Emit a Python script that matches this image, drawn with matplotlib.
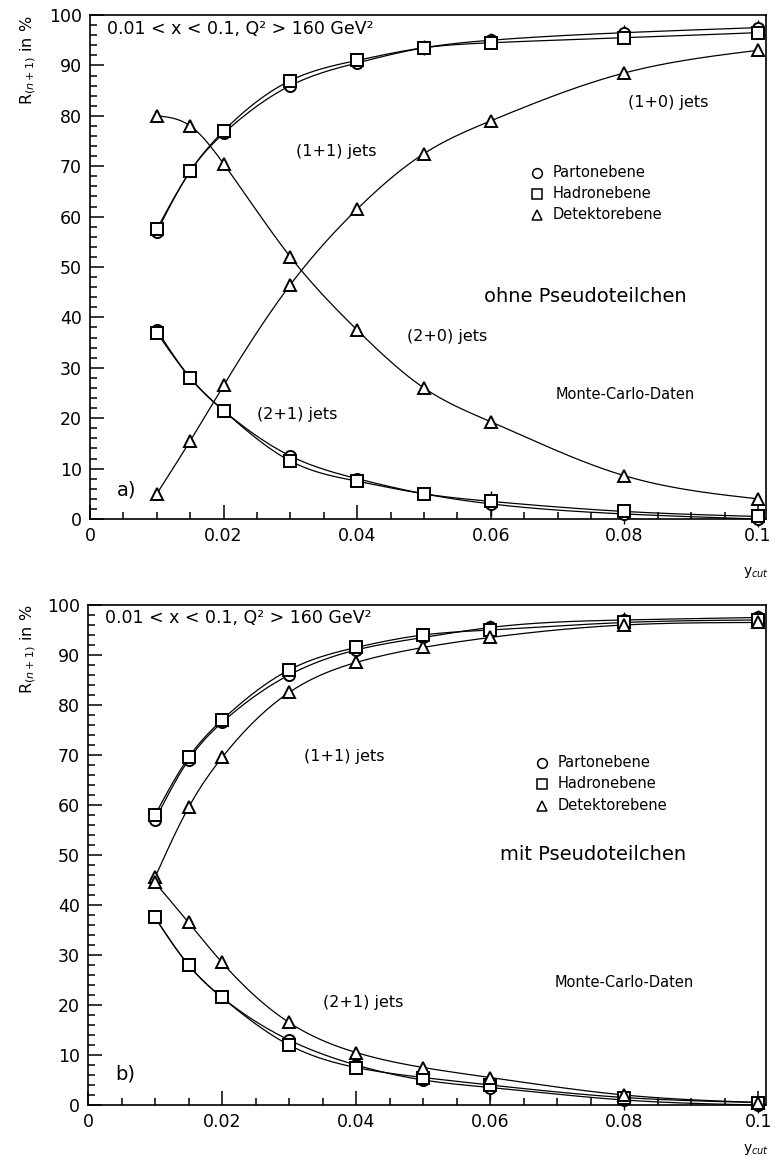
import matplotlib
matplotlib.use("Agg")
import matplotlib.pyplot as plt
import numpy as np
from matplotlib.ticker import MultipleLocator

plt.rcParams["font.family"] = ["DejaVu Sans"]

# y_cut Stuetzstellen
ycut = [0.01, 0.015, 0.02, 0.03, 0.04, 0.05, 0.06, 0.08, 0.1]

# a) ohne Pseudoteilchen
a_11_parton = [57.0, 69.0, 76.5, 86.0, 90.5, 93.5, 95.0, 96.5, 97.5]
a_11_hadron = [57.5, 69.0, 77.0, 87.0, 91.0, 93.5, 94.5, 95.5, 96.5]
a_21_parton = [37.5, 28.0, 21.5, 12.5, 8.0, 5.0, 3.0, 1.0, 0.0]
a_21_hadron = [37.0, 28.0, 21.5, 11.5, 7.5, 5.0, 3.5, 1.5, 0.5]
a_10_det = [5.0, 15.5, 26.5, 46.5, 61.5, 72.5, 79.0, 88.5, 93.0]
a_20_det = [80.0, 78.0, 70.5, 52.0, 37.5, 26.0, 19.3, 8.6, 4.0]

# b) mit Pseudoteilchen
b_11_parton = [57.0, 69.0, 76.5, 86.0, 91.0, 93.5, 95.5, 97.0, 97.5]
b_11_hadron = [58.0, 69.5, 77.0, 87.0, 91.5, 94.0, 95.0, 96.5, 97.0]
b_11_det = [45.5, 59.5, 69.5, 82.5, 88.5, 91.5, 93.5, 96.0, 96.5]
b_21_parton = [37.5, 28.0, 21.5, 13.0, 8.0, 5.0, 3.5, 1.0, 0.0]
b_21_hadron = [37.5, 28.0, 21.5, 12.0, 7.5, 5.5, 4.0, 1.5, 0.5]
b_21_det = [44.5, 36.5, 28.5, 16.5, 10.5, 7.5, 5.5, 2.0, 0.5]

err_11 = [0.5, 0.5, 0.8, 1.0, 1.2, 1.5, 1.5, 1.5, 1.5]
err_21 = [0.5, 0.5, 0.8, 1.0, 1.0, 1.2, 2.5, 2.0, 1.5]

legend_labels = ["Partonebene", "Hadronebene", "Detektorebene"]
MARKERS = ["o", "s", "^"]


def nat_spline(x, y, n=300):
    # natuerlicher kubischer Spline, nur fuer die Kurvendarstellung
    x = np.asarray(x, float)
    y = np.asarray(y, float)
    k = len(x)
    h = np.diff(x)
    A = np.zeros((k, k))
    r = np.zeros(k)
    A[0, 0] = A[-1, -1] = 1.0
    for i in range(1, k - 1):
        A[i, i - 1] = h[i - 1]
        A[i, i] = 2 * (h[i - 1] + h[i])
        A[i, i + 1] = h[i]
        r[i] = 6 * ((y[i + 1] - y[i]) / h[i] - (y[i] - y[i - 1]) / h[i - 1])
    M = np.linalg.solve(A, r)
    xs = np.linspace(x[0], x[-1], n)
    j = np.clip(np.searchsorted(x, xs) - 1, 0, k - 2)
    t0 = x[j + 1] - xs
    t1 = xs - x[j]
    hj = h[j]
    ys = (M[j] * t0 ** 3 + M[j + 1] * t1 ** 3) / (6 * hj) \
        + (y[j] / hj - M[j] * hj / 6) * t0 + (y[j + 1] / hj - M[j + 1] * hj / 6) * t1
    return xs, ys


def series(ax, y, marker, yerr=None):
    xs, ys = nat_spline(ycut, y)
    ax.plot(xs, ys, "-", color="black", lw=0.9, clip_on=False)
    ax.errorbar(ycut, y, yerr=yerr, fmt=marker, ms=8, mfc="white", mec="black",
                mew=1.4, ecolor="black", elinewidth=1.0, capsize=0, clip_on=False,
                zorder=3)


def style_axes(ax):
    ax.set_xlim(0, 0.1012)
    ax.set_ylim(0, 100)
    ax.xaxis.set_major_locator(MultipleLocator(0.02))
    ax.xaxis.set_minor_locator(MultipleLocator(0.005))
    ax.yaxis.set_major_locator(MultipleLocator(10))
    ax.yaxis.set_minor_locator(MultipleLocator(2))
    ax.tick_params(which="both", direction="in", top=False, right=False,
                   labelsize=12.5, width=1.1)
    ax.tick_params(which="major", length=10, pad=6)
    ax.tick_params(which="minor", length=5)
    ax.set_xticks([0, 0.02, 0.04, 0.06, 0.08, 0.1], ["0", "0.02", "0.04", "0.06", "0.08", "0.1"])
    for s in ax.spines.values():
        s.set_linewidth(1.2)
    ax.text(0.0025, 97.3, "0.01 < x < 0.1, Q² > 160 GeV²", fontsize=12.5, va="center")


def legend_block(ax, x0, ys):
    for m, lab, yy in zip(MARKERS, legend_labels, ys):
        ax.plot([x0], [yy], marker=m, ms=7, mfc="white", mec="black", mew=1.1,
                ls="none")
        ax.text(x0 + 0.0023, yy, lab, fontsize=10.5, va="center")


fig = plt.figure(figsize=(7.76, 11.65), dpi=100)
ax1 = fig.add_axes([0.116, 0.5545, 0.871, 0.4326])
ax2 = fig.add_axes([0.1134, 0.0515, 0.874, 0.4292])

# --- a) ---
series(ax1, a_11_parton, "o", err_11)
series(ax1, a_11_hadron, "s")
series(ax1, a_21_parton, "o", err_21)
series(ax1, a_21_hadron, "s")
series(ax1, a_10_det, "^")
series(ax1, a_20_det, "^")
style_axes(ax1)
ax1.text(0.0308, 73, "(1+1) jets", fontsize=11.5, va="center")
ax1.text(0.0805, 82.7, "(1+0) jets", fontsize=11.5, va="center")
ax1.text(0.0475, 36.3, "(2+0) jets", fontsize=11.5, va="center")
ax1.text(0.0250, 20.8, "(2+1) jets", fontsize=11.5, va="center")
ax1.text(0.0741, 44.2, "ohne Pseudoteilchen", fontsize=14, ha="center", va="center")
ax1.text(0.0697, 24.7, "Monte-Carlo-Daten", fontsize=10.5, va="center")
ax1.text(0.0040, 5.8, "a)", fontsize=14, va="center")
legend_block(ax1, 0.0670, [68.7, 64.5, 60.4])

# --- b) ---
series(ax2, b_11_parton, "o", err_11)
series(ax2, b_11_hadron, "s")
series(ax2, b_11_det, "^")
series(ax2, b_21_parton, "o", err_21)
series(ax2, b_21_hadron, "s")
series(ax2, b_21_det, "^")
style_axes(ax2)
ax2.text(0.0323, 69.6, "(1+1) jets", fontsize=11.5, va="center")
ax2.text(0.0350, 20.4, "(2+1) jets", fontsize=11.5, va="center")
ax2.text(0.0753, 50, "mit Pseudoteilchen", fontsize=14, ha="center", va="center")
ax2.text(0.0697, 24.4, "Monte-Carlo-Daten", fontsize=10.5, va="center")
ax2.text(0.0040, 6.2, "b)", fontsize=14, va="center")
legend_block(ax2, 0.0677, [68.4, 64.2, 59.8])

# Achsenbeschriftungen
for ytop in [0.987, 0.481]:
    fig.text(0.036, ytop, r"R$_{(n+1)}$ in %", rotation=90, fontsize=11.5,
             ha="center", va="top")
fig.text(0.974, 0.509, r"y$_{cut}$", fontsize=10, ha="center", va="center")
fig.text(0.974, 0.007, r"y$_{cut}$", fontsize=10, ha="center", va="bottom")

fig.savefig("out.png", dpi=100)
